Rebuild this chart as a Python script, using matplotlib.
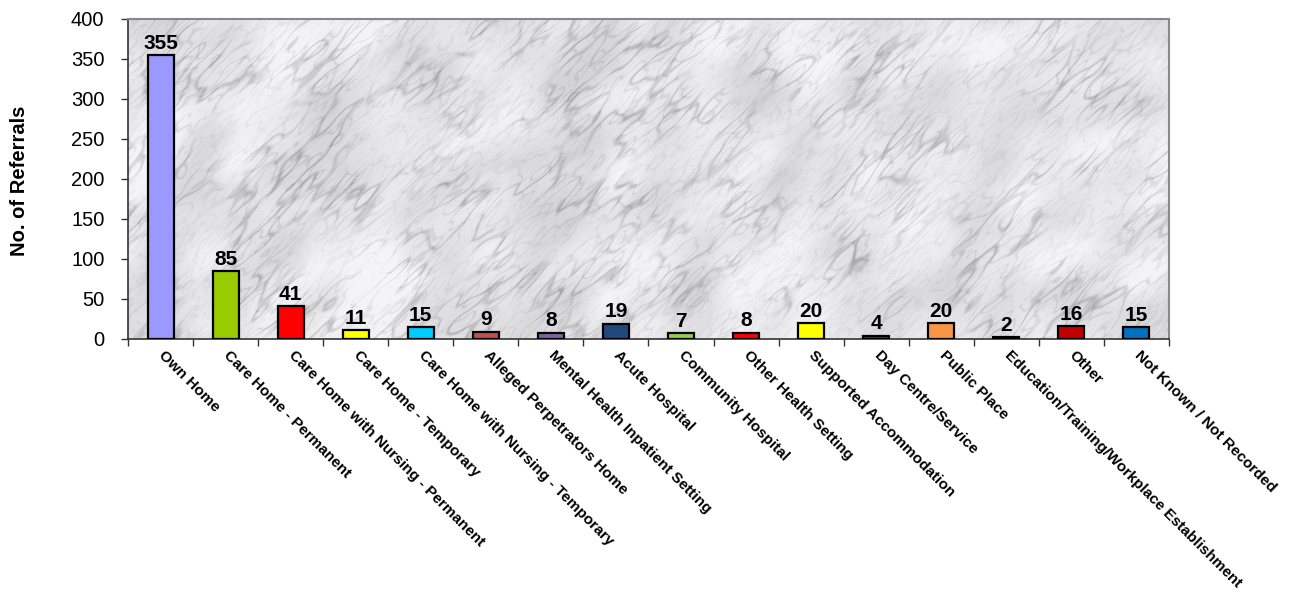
import numpy as np
import matplotlib
matplotlib.use("Agg")
import matplotlib.pyplot as plt

# Referrals by location
categories = [
    "Own Home",
    "Care Home - Permanent",
    "Care Home with Nursing - Permanent",
    "Care Home - Temporary",
    "Care Home with Nursing - Temporary",
    "Alleged Perpetrators Home",
    "Mental Health Inpatient Setting",
    "Acute Hospital",
    "Community Hospital",
    "Other Health Setting",
    "Supported Accommodation",
    "Day Centre/Service",
    "Public Place",
    "Education/Training/Workplace Establishment",
    "Other",
    "Not Known / Not Recorded",
]
referrals = [355, 85, 41, 11, 15, 9, 8, 19, 7, 8, 20, 4, 20, 2, 16, 15]
bar_colors = [
    "#9999FF", "#99CC00", "#FF0000", "#FFFF00", "#00CCFF", "#C0504D",
    "#8064A2", "#1F497D", "#92D050", "#FF0000", "#FFFF00", "#006633",
    "#F79646", "#1A1A1A", "#C00000", "#0070C0",
]
y_ticks = [0, 50, 100, 150, 200, 250, 300, 350, 400]

plt.rcParams["font.family"] = ["Liberation Sans", "DejaVu Sans"]

fig = plt.figure(figsize=(12.89, 5.93), dpi=100)
ax = fig.add_axes([128 / 1289, 1 - 339 / 593, (1169 - 128) / 1289, (339 - 19) / 593])


def streak_noise(rng, h, w, along, across):
    """Noise elongated along the '/' diagonal of the image."""
    noise = rng.standard_normal((h, w))
    fy = np.fft.fftfreq(h)[:, None]
    fx = np.fft.fftfreq(w)[None, :]
    u = (fx - fy) / np.sqrt(2)
    v = (fx + fy) / np.sqrt(2)
    mask = np.exp(-(u * along) ** 2 - (v * across) ** 2)
    layer = np.real(np.fft.ifft2(np.fft.fft2(noise) * mask))
    return layer / (layer.std() + 1e-9)


def marble_texture(h, w, seed=3):
    """Light grey marble fill with soft diagonal veins."""
    rng = np.random.default_rng(seed)
    clouds = streak_noise(rng, h, w, 90, 60)
    strength = 0.5 + 0.5 * np.tanh(1.2 * streak_noise(rng, h, w, 70, 50))
    n1 = streak_noise(rng, h, w, 60, 14)
    n2 = streak_noise(rng, h, w, 35, 9)
    n3 = streak_noise(rng, h, w, 20, 5)
    v1 = np.exp(-n1 ** 2 / 0.09)
    v2 = np.exp(-n2 ** 2 / 0.07)
    v3 = np.exp(-n3 ** 2 / 0.05)
    base = (0.915 + 0.03 * clouds
            - 0.14 * v1 * strength
            - 0.08 * v2 * (0.4 + 0.6 * strength)
            - 0.03 * v3)
    base = np.clip(base, 0.60, 0.97)
    return np.dstack([base * 0.99, base * 0.99, base])


tex = marble_texture(320, 1041)
ax.imshow(tex, extent=(-0.5, len(categories) - 0.5, 0, 400), aspect="auto",
          zorder=0, interpolation="bilinear")

x = np.arange(len(categories))
ax.bar(x, referrals, width=0.4, color=bar_colors, edgecolor="black",
       linewidth=1.6, zorder=3)

for xi, v in zip(x, referrals):
    ax.text(xi, v + 3, str(v), ha="center", va="bottom", fontsize=15,
            fontweight="bold", zorder=4)

ax.set_xlim(-0.5, len(categories) - 0.5)
ax.set_ylim(0, 400)
ax.set_yticks(y_ticks)
ax.set_yticklabels([str(t) for t in y_ticks], fontsize=14.5)

# category boundaries carry the ticks, labels sit under each bar
ax.set_xticks(np.arange(len(categories) + 1) - 0.5)
ax.set_xticklabels([])
ax.tick_params(axis="x", direction="out", length=5, width=1, color="#333333")
ax.tick_params(axis="y", direction="out", length=5, width=1, color="#333333", pad=12)
for xi, name in zip(x, categories):
    ax.text(xi + 0.08, -12, name, rotation=-45, rotation_mode="anchor",
            ha="left", va="top", fontsize=11, fontweight="bold",
            transform=ax.transData, clip_on=False)

for side in ["left", "bottom"]:
    ax.spines[side].set_color("#333333")
    ax.spines[side].set_linewidth(1.2)
for side in ["top", "right"]:
    ax.spines[side].set_color("#888888")
    ax.spines[side].set_linewidth(1.5)

fig.text(20 / 1289, 1 - 181 / 593, "No. of Referrals", rotation=90,
         ha="center", va="center", fontsize=14.5, fontweight="bold")

fig.savefig("out.png", dpi=100)
